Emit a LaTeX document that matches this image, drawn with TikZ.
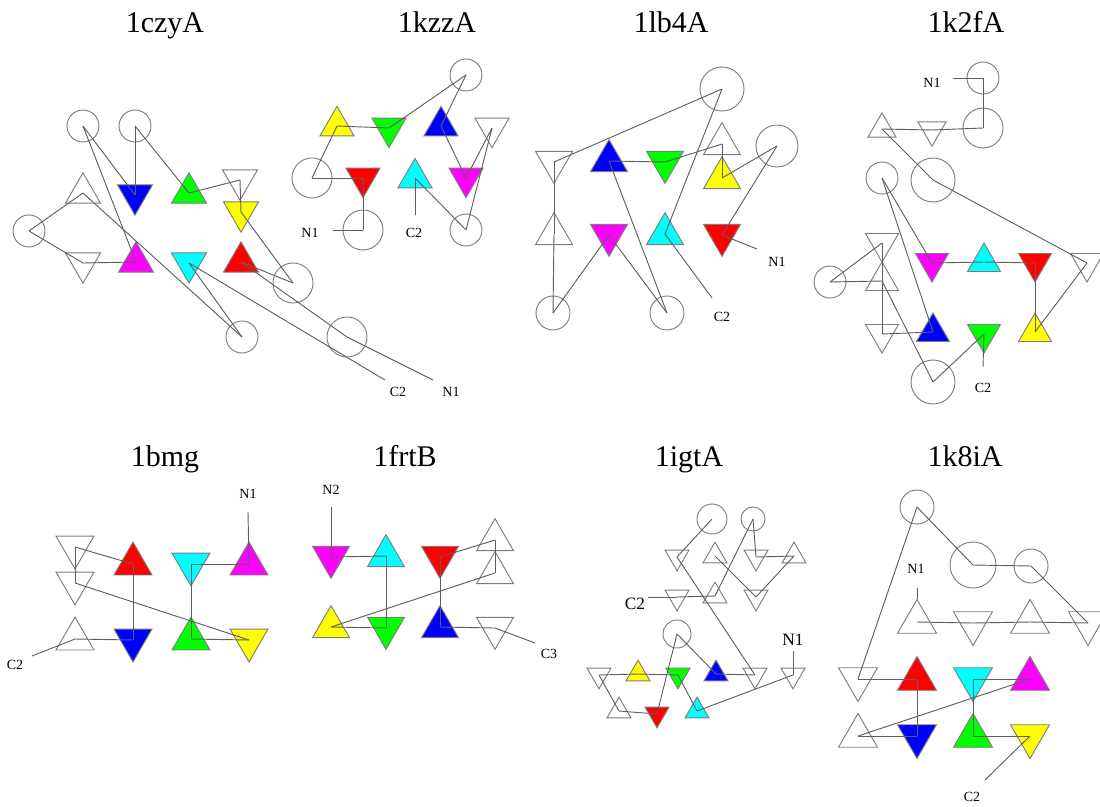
\documentclass[tikz,border=0pt]{standalone}
\usepackage{fontspec}
\setmainfont{Liberation Serif}
\usetikzlibrary{shapes.geometric}
\definecolor{edgegray}{RGB}{125,125,125}
\definecolor{linegray}{RGB}{95,95,95}
\definecolor{cRed}{RGB}{255,0,0}
\definecolor{cGreen}{RGB}{0,255,0}
\definecolor{cBlue}{RGB}{0,0,255}
\definecolor{cYellow}{RGB}{255,255,0}
\definecolor{cCyan}{RGB}{0,255,255}
\definecolor{cMagenta}{RGB}{255,0,255}
\newcommand\conn[2]{\draw[ln] (#1.center) -- (#2.center);}
\tikzset{
  tup/.style={regular polygon, regular polygon sides=3, draw=edgegray, line width=0.7pt, inner sep=0pt, minimum size=#1*0.866pt, fill=white},
  tdn/.style={tup=#1, shape border rotate=180},
  circ/.style={circle, draw=edgegray, line width=0.7pt, inner sep=0pt, minimum size=#1*0.75pt},
  ln/.style={draw=linegray, line width=0.7pt},
  lab/.style={font=\fontsize{10.5}{11}\selectfont, inner sep=0pt},
  labb/.style={font=\fontsize{13}{13}\selectfont, inner sep=0pt},
  ttl/.style={font=\fontsize{22.5}{24}\selectfont, inner sep=0pt, anchor=base},
}
\begin{document}
\begin{tikzpicture}[x=0.75pt,y=-0.75pt]
\useasboundingbox (0,0) rectangle (1100,807);
\clip (0,0) rectangle (1100,807);
% titles
\node[ttl] (t1) at (165,32) {1czyA};
\node[ttl] (t2) at (437,32) {1kzzA};
\node[ttl] (t3) at (671,32) {1lb4A};
\node[ttl] (t4) at (966,32) {1k2fA};
\node[ttl] (t5) at (165,466) {1bmg};
\node[ttl] (t6) at (405,466) {1frtB};
\node[ttl] (t7) at (689,466) {1igtA};
\node[ttl] (t8) at (965,466) {1k8iA};

% ---------- panel 1: 1czyA ----------
\node[circ=32] (p1cA) at (83,126) {};
\node[circ=32] (p1cB) at (135,126) {};
\node[tup=35] (p1wu) at (83,193) {};
\node[tdn=35, fill=cBlue] (p1bl) at (135,195) {};
\node[tup=35, fill=cGreen] (p1gr) at (189,193) {};
\node[tdn=35] (p1wd) at (240,180) {};
\node[tdn=35, fill=cYellow] (p1ye) at (241,212) {};
\node[circ=32] (p1cL) at (29,231) {};
\node[tdn=35] (p1wd2) at (83,263) {};
\node[tup=35, fill=cMagenta] (p1ma) at (136,262) {};
\node[tdn=35, fill=cCyan] (p1cy) at (189,263) {};
\node[tup=35, fill=cRed] (p1re) at (241,262) {};
\node[circ=32] (p1cS) at (242,337) {};
\node[circ=40] (p1cM) at (293,283) {};
\node[circ=40] (p1cN) at (347,337) {};
\node[lab] (p1lc) at (398,392) {C2};
\node[lab] (p1ln) at (451,392) {N1};
\coordinate (p1ec) at (385,380);
\coordinate (p1en) at (433,380);
\conn{p1cA}{p1bl}
\conn{p1cA}{p1ma}
\conn{p1cB}{p1bl}
\conn{p1cB}{p1gr}
\conn{p1gr}{p1wd}
\conn{p1wd}{p1ye}
\conn{p1ye}{p1cM}
\conn{p1cL}{p1wu}
\conn{p1cL}{p1wd2}
\conn{p1wd2}{p1ma}
\conn{p1wu}{p1cS}
\conn{p1cy}{p1cS}
\conn{p1cy}{p1ec}
\conn{p1re}{p1cM}
\conn{p1re}{p1cN}
\conn{p1cN}{p1en}

% ---------- panel 2: 1kzzA ----------
\node[circ=32] (p2cT) at (466,75) {};
\node[tup=34, fill=cYellow] (p2ye) at (337,126) {};
\node[tdn=34, fill=cGreen] (p2gr) at (389,128) {};
\node[tup=34, fill=cBlue] (p2bl) at (441,126) {};
\node[tdn=34] (p2wd) at (492,128) {};
\node[circ=40] (p2cL) at (312,178) {};
\node[tdn=34, fill=cRed] (p2re) at (363,178) {};
\node[tup=34, fill=cCyan] (p2cy) at (415,178) {};
\node[tdn=34, fill=cMagenta] (p2ma) at (466,178) {};
\node[circ=40] (p2cN) at (363,230) {};
\node[circ=32] (p2cR) at (466,230) {};
\node[lab] (p2ln) at (310,233) {N1};
\node[lab] (p2lc) at (414,233) {C2};
\coordinate (p2en) at (333,230);
\coordinate (p2ec) at (415,215);
\conn{p2ye}{p2gr}
\conn{p2gr}{p2cT}
\conn{p2cT}{p2bl}
\conn{p2bl}{p2ma}
\conn{p2ye}{p2cL}
\conn{p2cL}{p2re}
\conn{p2re}{p2cN}
\conn{p2cN}{p2en}
\conn{p2cy}{p2ec}
\conn{p2cy}{p2cR}
\conn{p2cR}{p2wd}
\conn{p2wd}{p2ma}

% ---------- panel 3: 1lb4A ----------
\node[circ=44] (p3cT) at (722,89) {};
\node[tdn=37] (p3wd) at (554,162) {};
\node[tup=37, fill=cBlue] (p3bl) at (609,161) {};
\node[tdn=37, fill=cGreen] (p3gr) at (665,162) {};
\node[tup=37] (p3wu) at (722,144) {};
\node[tup=37, fill=cYellow] (p3ye) at (722,178) {};
\node[circ=42] (p3cR) at (777,146) {};
\node[tup=37] (p3wu2) at (554,234) {};
\node[tdn=37, fill=cMagenta] (p3ma) at (609,235) {};
\node[tup=37, fill=cCyan] (p3cy) at (665,234) {};
\node[tdn=37, fill=cRed] (p3re) at (722,235) {};
\node[circ=34] (p3cBL) at (553,313) {};
\node[circ=34] (p3cBM) at (667,313) {};
\node[lab] (p3ln) at (777,262) {N1};
\node[lab] (p3lc) at (722,317) {C2};
\coordinate (p3en) at (757,249);
\coordinate (p3ec) at (712,298);
\conn{p3wd}{p3cT}
\conn{p3wd}{p3wu2}
\conn{p3wu2}{p3cBL}
\conn{p3bl}{p3gr}
\conn{p3bl}{p3cBM}
\conn{p3gr}{p3wu}
\conn{p3wu}{p3ye}
\conn{p3ye}{p3cR}
\conn{p3cR}{p3re}
\conn{p3re}{p3en}
\conn{p3cT}{p3cy}
\conn{p3cy}{p3ec}
\conn{p3ma}{p3cBL}
\conn{p3ma}{p3cBM}

% ---------- panel 4: 1k2fA ----------
\node[circ=32] (p4cT) at (983,78) {};
\node[circ=40] (p4cU) at (983,128) {};
\node[tup=28] (p4wu) at (882,129) {};
\node[tdn=28] (p4wd) at (932,130) {};
\node[circ=44] (p4c3) at (933,180) {};
\node[circ=32] (p4c4) at (882,178) {};
\node[tdn=33] (p4hd) at (882,243) {};
\node[tup=33] (p4hu) at (882,281) {};
\node[tdn=33, fill=cMagenta] (p4ma) at (932,263) {};
\node[tup=33, fill=cCyan] (p4cy) at (984,262) {};
\node[tdn=33, fill=cRed] (p4re) at (1035,263) {};
\node[tdn=33] (p4wr) at (1087,263) {};
\node[circ=32] (p4c5) at (830,282) {};
\node[tdn=33] (p4wl) at (882,334) {};
\node[tup=33, fill=cBlue] (p4bl) at (933,332) {};
\node[tdn=33, fill=cGreen] (p4gr) at (984,334) {};
\node[tup=33, fill=cYellow] (p4ye) at (1035,332) {};
\node[circ=44] (p4c6) at (933,382) {};
\node[lab] (p4ln) at (932,83) {N1};
\node[lab] (p4lc) at (983,388) {C2};
\coordinate (p4en) at (953,78);
\coordinate (p4ec) at (983,367);
\conn{p4cT}{p4en}
\conn{p4cT}{p4cU}
\conn{p4wu}{p4wd}
\conn{p4wd}{p4cU}
\conn{p4wu}{p4c3}
\conn{p4c3}{p4wr}
\conn{p4wr}{p4ye}
\conn{p4c4}{p4ma}
\conn{p4c4}{p4bl}
\conn{p4ma}{p4cy}
\conn{p4cy}{p4re}
\conn{p4re}{p4ye}
\conn{p4c5}{p4hd}
\conn{p4c5}{p4hu}
\conn{p4hd}{p4hu}
\conn{p4hu}{p4wl}
\conn{p4wl}{p4bl}
\conn{p4hu}{p4c6}
\conn{p4c6}{p4gr}
\conn{p4gr}{p4ec}

% ---------- panel 5: 1bmg ----------
\node[tdn=38] (p5wa) at (75,547) {};
\node[tdn=38] (p5wb) at (75,583) {};
\node[tup=38] (p5wc) at (75,639) {};
\node[tup=38, fill=cRed] (p5re) at (133,564) {};
\node[tdn=38, fill=cBlue] (p5bl) at (133,640) {};
\node[tdn=38, fill=cCyan] (p5cy) at (191,564) {};
\node[tup=38, fill=cMagenta] (p5ma) at (249,564) {};
\node[tup=38, fill=cGreen] (p5gr) at (191,639) {};
\node[tdn=38, fill=cYellow] (p5ye) at (249,640) {};
\node[lab] (p5ln) at (248,494) {N1};
\node[lab] (p5lc) at (15,665) {C2};
\coordinate (p5en) at (248,512);
\coordinate (p5ec) at (32,656);
\conn{p5re}{p5wa}
\conn{p5wa}{p5wb}
\conn{p5wb}{p5ye}
\conn{p5re}{p5bl}
\conn{p5cy}{p5ma}
\conn{p5cy}{p5gr}
\conn{p5gr}{p5ye}
\conn{p5wc}{p5bl}
\conn{p5wc}{p5ec}
\conn{p5ma}{p5en}

% ---------- panel 6: 1frtB ----------
\node[tdn=37, fill=cMagenta] (p6ma) at (331,557) {};
\node[tup=37, fill=cCyan] (p6cy) at (386,556) {};
\node[tdn=37, fill=cRed] (p6re) at (440,557) {};
\node[tup=37] (p6wu1) at (495,540) {};
\node[tup=37] (p6wu2) at (495,573) {};
\node[tup=37, fill=cYellow] (p6ye) at (331,627) {};
\node[tdn=37, fill=cGreen] (p6gr) at (386,628) {};
\node[tup=37, fill=cBlue] (p6bl) at (440,627) {};
\node[tdn=37] (p6wd) at (495,628) {};
\node[lab] (p6ln) at (331,490) {N2};
\node[lab] (p6lc) at (549,654) {C3};
\coordinate (p6en) at (331,507);
\coordinate (p6ec) at (535,643);
\conn{p6en}{p6ma}
\conn{p6ma}{p6cy}
\conn{p6cy}{p6gr}
\conn{p6re}{p6wu1}
\conn{p6wu1}{p6wu2}
\conn{p6re}{p6bl}
\conn{p6wu2}{p6ye}
\conn{p6ye}{p6gr}
\conn{p6bl}{p6wd}
\conn{p6wd}{p6ec}

% ---------- panel 7: 1igtA ----------
\node[circ=30] (p7c1) at (712,519) {};
\node[circ=24] (p7c2) at (753,519) {};
\node[tdn=24] (p7a) at (677,557) {};
\node[tup=24] (p7b) at (715,556) {};
\node[tdn=24] (p7c) at (756,557) {};
\node[tup=24] (p7d) at (794,556) {};
\node[tdn=24] (p7e) at (677,597) {};
\node[tup=24] (p7f) at (715,596) {};
\node[tdn=24] (p7g) at (756,597) {};
\node[circ=28] (p7c3) at (677,634) {};
\node[tdn=24] (p7h) at (599,675) {};
\node[tup=24, fill=cYellow] (p7ye) at (638,674) {};
\node[tdn=24, fill=cGreen] (p7gr) at (678,675) {};
\node[tup=24, fill=cBlue] (p7bl) at (716,674) {};
\node[tdn=24] (p7i) at (755,675) {};
\node[tdn=24] (p7j) at (793,675) {};
\node[tup=24] (p7k) at (619,711) {};
\node[tdn=24, fill=cRed] (p7re) at (657,714) {};
\node[tup=24, fill=cCyan] (p7cy) at (697,711) {};
\node[labb] (p7lc) at (635,604) {C2};
\node[labb] (p7ln) at (793,640) {N1};
\coordinate (p7ec) at (648,597);
\coordinate (p7en) at (793,651);
\conn{p7c1}{p7a}
\conn{p7c2}{p7c}
\conn{p7c}{p7d}
\conn{p7d}{p7g}
\conn{p7b}{p7g}
\conn{p7c2}{p7f}
\conn{p7a}{p7i}
\conn{p7ec}{p7e}
\conn{p7e}{p7f}
\conn{p7c3}{p7re}
\conn{p7c3}{p7bl}
\conn{p7h}{p7ye}
\conn{p7ye}{p7gr}
\conn{p7bl}{p7i}
\conn{p7gr}{p7cy}
\conn{p7cy}{p7j}
\conn{p7h}{p7k}
\conn{p7k}{p7re}
\conn{p7j}{p7en}

% ---------- panel 8: 1k8iA ----------
\node[circ=34] (p8c1) at (917,507) {};
\node[circ=46] (p8c2) at (973,565) {};
\node[circ=34] (p8c3) at (1031,566) {};
\node[tup=39] (p8a) at (917,622) {};
\node[tdn=39] (p8b) at (973,623) {};
\node[tup=39] (p8c) at (1030,622) {};
\node[tdn=39] (p8d) at (1088,623) {};
\node[tdn=39] (p8e) at (858,679) {};
\node[tup=39, fill=cRed] (p8re) at (917,679) {};
\node[tdn=39, fill=cCyan] (p8cy) at (973,679) {};
\node[tup=39, fill=cMagenta] (p8ma) at (1030,679) {};
\node[tup=39] (p8f) at (858,736) {};
\node[tdn=39, fill=cBlue] (p8bl) at (917,736) {};
\node[tup=39, fill=cGreen] (p8gr) at (973,736) {};
\node[tdn=39, fill=cYellow] (p8ye) at (1030,736) {};
\node[lab] (p8ln) at (916,569) {N1};
\node[lab] (p8lc) at (972,797) {C2};
\coordinate (p8en) at (917,588);
\coordinate (p8ec) at (985,780);
\draw[ln] (p8en) -- (p8a.north);
\conn{p8c1}{p8c2}
\conn{p8c2}{p8c3}
\conn{p8c3}{p8d}
\conn{p8a}{p8b}
\conn{p8b}{p8c}
\conn{p8c}{p8d}
\conn{p8c1}{p8e}
\conn{p8e}{p8re}
\conn{p8re}{p8bl}
\conn{p8cy}{p8ma}
\conn{p8cy}{p8gr}
\conn{p8ma}{p8f}
\conn{p8f}{p8bl}
\conn{p8gr}{p8ye}
\conn{p8ye}{p8ec}
\end{tikzpicture}
\end{document}
